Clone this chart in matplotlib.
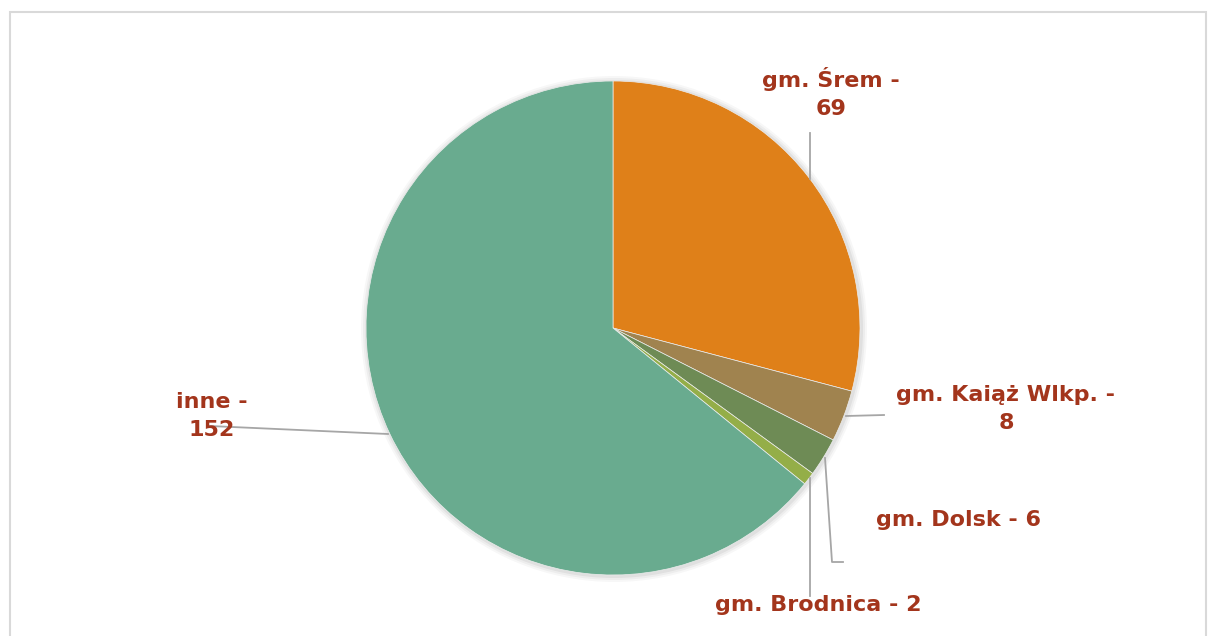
import matplotlib.pyplot as plt
from matplotlib.patches import Rectangle, Circle

labels = ['gm. Śrem -\n69', 'gm. Kaiąż Wlkp. -\n8', 'gm. Dolsk - 6', 'gm. Brodnica - 2', 'inne -\n152']
values = [69, 8, 6, 2, 152]
colors = ['#DF8019', '#A0834F', '#6E8B55', '#94AE48', '#69AB8F']

W, H = 1208, 636
TXT = '#A3351C'
LINE = '#A6A6A6'

fig = plt.figure(figsize=(W / 100, H / 100), dpi=100)
ax = fig.add_axes([0, 0, 1, 1])


def py(y):
    # pixel row (from top) -> data y
    return H - y


# chart frame
ax.add_patch(Rectangle((10, -5), 1196, py(12) + 5, fill=False, ec='#D9D9D9', lw=1.5))

cx, cy, r = 613, py(328), 247

# soft shadow round the pie
for i, a in enumerate([0.05, 0.04, 0.03]):
    ax.add_patch(Circle((cx + 1, cy - 1), r + 2 + 2 * i, color='black', alpha=a, lw=0, zorder=1))

wedges, _ = ax.pie(values, colors=colors, startangle=90, counterclock=False,
                   center=(cx, cy), radius=r, frame=True,
                   wedgeprops=dict(edgecolor='#EDEDED', linewidth=0.5, zorder=2))
ax.set_xlim(0, W)
ax.set_ylim(0, H)
ax.set_aspect('equal')
ax.axis('off')

# leader lines (pixel coordinates)
leaders = [
    [(810, 133), (810, 179)],
    [(884, 415), (846, 416)],
    [(843, 562), (832, 562), (825, 458)],
    [(810, 596), (810, 478)],
    [(210, 426), (388, 434)],
]
for pts in leaders:
    ax.plot([p[0] for p in pts], [py(p[1]) for p in pts], color=LINE, lw=1.3, zorder=3)

label_pos = [(831, 93), (1006, 409), (958, 520), (818, 605), (212, 416)]
for txt, (x, y) in zip(labels, label_pos):
    ax.text(x, py(y), txt, ha='center', va='center', color=TXT, fontsize=16,
            fontweight='bold', family=['DejaVu Sans'], linespacing=1.45, zorder=4)

fig.savefig('out.png', dpi=100)
